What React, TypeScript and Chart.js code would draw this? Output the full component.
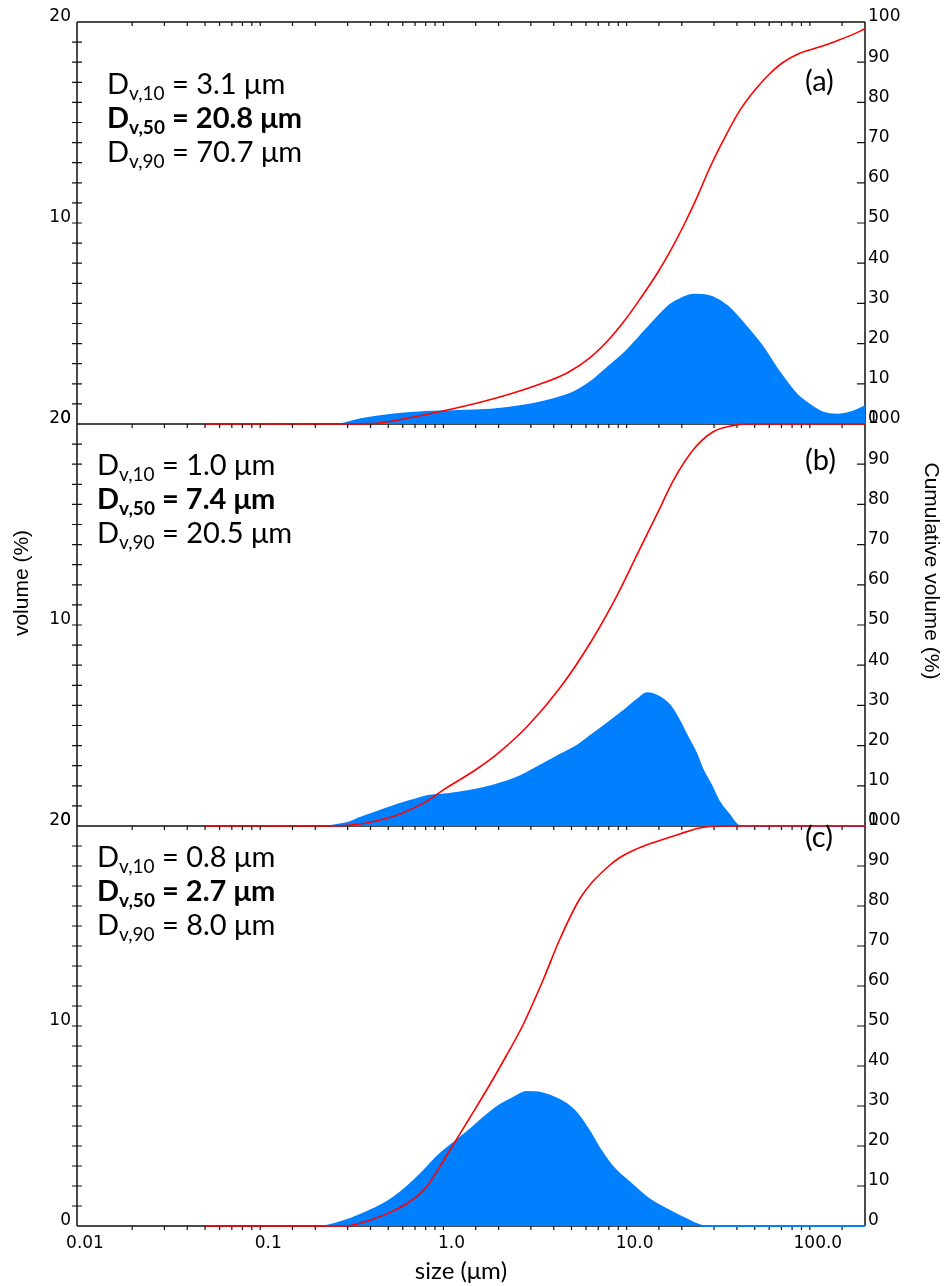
import React, { useEffect, useRef } from "react";
import { Chart, registerables } from "chart.js";

Chart.register(...registerables);

// ---------------- data ----------------
const X_MIN = 0.01;
const X_MAX = 200;
const xTickValues = [0.01, 0.1, 1, 10, 100];
const xTickLabels = ["0.01", "0.1", "1.0", "10.0", "100.0"];

// Panel (a)
const sizesVolA = [0.28, 0.35, 0.45, 0.69, 1.12, 1.81, 2.78, 3.9, 5.2, 6.6, 8.0, 9.7, 11.8, 14.3, 17.3, 20, 23.1, 26, 29.4, 35.6, 43.3, 55, 66.7, 84.7, 100, 117, 142, 170, 200];
const volA = [0, 0.22, 0.39, 0.56, 0.64, 0.71, 0.92, 1.21, 1.6, 2.2, 2.86, 3.52, 4.35, 5.18, 5.93, 6.25, 6.43, 6.42, 6.31, 5.85, 5.02, 3.86, 2.7, 1.47, 0.95, 0.58, 0.46, 0.6, 0.87];
const sizesCumA = [0.05, 0.2, 0.41, 0.52, 0.92, 1.81, 3.2, 4.73, 6.32, 8.0, 9.7, 11.8, 14.7, 17.3, 20.8, 24, 28.6, 35, 41.5, 50, 60, 70.7, 88, 115, 140, 170, 200];
const cumA = [0, 0, 0.1, 0.7, 2.9, 6.1, 9.6, 12.7, 16.5, 21, 25.6, 31, 37.5, 43, 50, 56, 64, 72, 78, 83, 87, 89.8, 92.2, 93.9, 95.3, 96.8, 98.3];

// Panel (b)
const sizesVolB = [0.24, 0.3, 0.35, 0.45, 0.58, 0.72, 0.84, 1.1, 1.6, 2.2, 2.6, 3.3, 4.35, 5.5, 6.5, 8.1, 10, 11.5, 12.9, 14.5, 17.2, 19.5, 21.3, 24, 26, 29, 32, 36, 41.4, 200];
const volB = [0, 0.15, 0.4, 0.75, 1.1, 1.35, 1.5, 1.6, 1.85, 2.2, 2.45, 2.95, 3.55, 4.05, 4.55, 5.2, 5.85, 6.3, 6.6, 6.5, 6.0, 5.2, 4.5, 3.6, 2.8, 2.0, 1.2, 0.6, 0, 0];
const sizesCumB = [0.05, 0.25, 0.35, 0.45, 0.58, 0.8, 1.0, 1.5, 2.0, 2.9, 4.35, 6.5, 8.9, 11.4, 14.8, 18, 23.1, 29.5, 37.8, 45, 200];
const cumB = [0, 0, 0.5, 1.5, 3, 6.0, 9.0, 14.0, 18.2, 25, 34.5, 46.4, 57.5, 67.5, 78, 86, 93.6, 98, 99.6, 100, 100];

// Panel (c)
const sizesVolC = [0.23, 0.3, 0.37, 0.45, 0.54, 0.65, 0.79, 0.92, 1.1, 1.39, 1.7, 2.0, 2.4, 2.84, 3.4, 4.3, 5.0, 5.5, 6.3, 7.2, 8.5, 10.6, 13, 16.8, 21, 26.4, 200];
const volC = [0, 0.3, 0.64, 1.0, 1.45, 2.05, 2.8, 3.45, 4.05, 4.8, 5.5, 6.0, 6.4, 6.7, 6.65, 6.3, 5.9, 5.5, 4.7, 3.8, 2.9, 2.1, 1.4, 0.8, 0.35, 0, 0];
const sizesCumC = [0.05, 0.29, 0.4, 0.54, 0.65, 0.8, 1.07, 1.39, 1.8, 2.2, 2.7, 3.5, 4.3, 5.5, 6.5, 8.0, 9.1, 11, 13.5, 19.5, 25, 32, 200];
const cumC = [0, 0, 1.5, 3.9, 6.0, 9.5, 18.5, 27, 35.5, 42.5, 50, 61.5, 71.5, 81.5, 86, 90, 92, 94, 95.6, 98, 99.5, 100, 100];

const panelLetters = ["(a)", "(b)", "(c)"];
const dv10 = ["3.1", "1.0", "0.8"];
const dv50 = ["20.8", "7.4", "2.7"];
const dv90 = ["70.7", "20.5", "8.0"];

const yLeftTitle = "volume (%)";
const yRightTitle = "Cumulative volume (%)";
const xTitle = "size (\u03bcm)";

// ---------------- styles ----------------
const BLUE = "rgb(0,128,255)";
const RED = "rgb(255,0,0)";
const W = 951;
const LEFT_AXIS_W = 77;
const RIGHT_AXIS_W = 86;
const TICK_FONT = { family: "'DejaVu Sans', sans-serif", size: 17 };
const ANNOT_FAMILY = "Lato, 'Open Sans', sans-serif";

type PanelDef = {
  sizesVol: number[];
  vol: number[];
  sizesCum: number[];
  cum: number[];
  idx: number;
  canvasTop: number;
  canvasHeight: number;
  xAxisHeight: number;
  showXLabels: boolean;
  drawTop: boolean;
  annotX: number;
  annotBase: number;
  letterBase: number;
  axisTitles: boolean;
  xTitle: boolean;
};

const panels: PanelDef[] = [
  { sizesVol: sizesVolA, vol: volA, sizesCum: sizesCumA, cum: cumA, idx: 0, canvasTop: 0, canvasHeight: 446, xAxisHeight: 22, showXLabels: false, drawTop: true, annotX: 107, annotBase: 94, letterBase: 91, axisTitles: false, xTitle: false },
  { sizesVol: sizesVolB, vol: volB, sizesCum: sizesCumB, cum: cumB, idx: 1, canvasTop: 402, canvasHeight: 446, xAxisHeight: 22, showXLabels: false, drawTop: false, annotX: 97, annotBase: 475, letterBase: 470, axisTitles: true, xTitle: false },
  { sizesVol: sizesVolC, vol: volC, sizesCum: sizesCumC, cum: cumC, idx: 2, canvasTop: 804, canvasHeight: 482, xAxisHeight: 60, showXLabels: true, drawTop: false, annotX: 97, annotBase: 867, letterBase: 847, axisTitles: false, xTitle: true },
];

function drawDLine(ctx: CanvasRenderingContext2D, x: number, y: number, sub: string, value: string, bold: boolean) {
  const w = bold ? "bold " : "";
  ctx.font = `${w}29px ${ANNOT_FAMILY}`;
  ctx.fillText("D", x, y);
  x += ctx.measureText("D").width;
  ctx.font = `${w}19px ${ANNOT_FAMILY}`;
  ctx.fillText(sub, x, y + 6);
  x += ctx.measureText(sub).width;
  ctx.font = `${w}29px ${ANNOT_FAMILY}`;
  ctx.fillText(` = ${value} \u03bcm`, x, y);
}

const decoPlugin = {
  id: "deco",
  beforeDatasetsDraw(chart: any, _args: any, opts: any) {
    const { ctx, chartArea } = chart;
    const { left, right, top, bottom } = chartArea;
    const xs = chart.scales.x;
    const yl = chart.scales.y;
    const yr = chart.scales.y2;
    ctx.save();
    ctx.strokeStyle = "#111";
    ctx.lineWidth = 1.5;
    ctx.beginPath();
    if (opts.drawTop) {
      ctx.moveTo(left, top);
      ctx.lineTo(right, top);
    }
    ctx.moveTo(left, bottom);
    ctx.lineTo(right, bottom);
    ctx.moveTo(left, top);
    ctx.lineTo(left, bottom);
    ctx.moveTo(right, top);
    ctx.lineTo(right, bottom);
    ctx.stroke();

    ctx.lineWidth = 1.2;
    ctx.beginPath();
    xs.ticks.forEach((t: any) => {
      const px = xs.getPixelForValue(t.value);
      if (px <= left + 1 || px >= right - 1) return;
      ctx.moveTo(px, top);
      ctx.lineTo(px, top + 4);
      if (opts.bottomTicks) {
        ctx.moveTo(px, bottom);
        ctx.lineTo(px, bottom + 4);
      }
    });
    for (let v = yl.min + 1; v < yl.max; v += 1) {
      const py = yl.getPixelForValue(v);
      ctx.moveTo(left - 5, py);
      ctx.lineTo(left + 5, py);
    }
    for (let v = yr.min + 10; v < yr.max; v += 10) {
      const py = yr.getPixelForValue(v);
      ctx.moveTo(right - 8, py);
      ctx.lineTo(right, py);
    }
    ctx.stroke();
    ctx.restore();
  },
  afterDraw(chart: any, _args: any, opts: any) {
    const { ctx } = chart;
    const off = opts.canvasTop;
    ctx.save();
    ctx.fillStyle = "#000";
    ctx.textBaseline = "alphabetic";
    ctx.textAlign = "left";
    const i = opts.idx;
    drawDLine(ctx, opts.annotX, opts.annotBase - off, "v,10", dv10[i], false);
    drawDLine(ctx, opts.annotX, opts.annotBase + 34 - off, "v,50", dv50[i], true);
    drawDLine(ctx, opts.annotX, opts.annotBase + 68 - off, "v,90", dv90[i], false);
    ctx.font = `29px ${ANNOT_FAMILY}`;
    ctx.fillText(panelLetters[i], 805, opts.letterBase - off);

    if (opts.axisTitles) {
      ctx.font = "21px 'Liberation Sans', Arial, sans-serif";
      ctx.textAlign = "center";
      ctx.textBaseline = "middle";
      ctx.save();
      ctx.translate(22, 583 - off);
      ctx.rotate(-Math.PI / 2);
      ctx.fillText(yLeftTitle, 0, 0);
      ctx.restore();
      ctx.save();
      ctx.translate(931, 571 - off);
      ctx.rotate(Math.PI / 2);
      ctx.fillText(yRightTitle, 0, 0);
      ctx.restore();
    }
    if (opts.xTitle) {
      ctx.font = `24px ${ANNOT_FAMILY}`;
      ctx.textAlign = "center";
      ctx.textBaseline = "middle";
      ctx.fillText(xTitle, 461, 1271 - off);
    }
    ctx.restore();
  },
};

function xLabel(v: number): string {
  const k = xTickValues.findIndex((t) => Math.abs(Math.log10(v) - Math.log10(t)) < 1e-6);
  return k >= 0 ? xTickLabels[k] : "";
}

function Panel({ def }: { def: PanelDef }) {
  const ref = useRef<HTMLCanvasElement>(null);
  useEffect(() => {
    const chart = new Chart(ref.current as HTMLCanvasElement, {
      type: "line",
      data: {
        datasets: [
          {
            label: "cumulative",
            data: def.sizesCum.map((s, k) => ({ x: s, y: def.cum[k] })),
            yAxisID: "y2",
            borderColor: RED,
            borderWidth: 1.6,
            pointRadius: 0,
            fill: false,
            clip: 3,
            cubicInterpolationMode: "monotone",
            order: 0,
          },
          {
            label: "volume",
            data: def.sizesVol.map((s, k) => ({ x: s, y: def.vol[k] })),
            yAxisID: "y",
            borderColor: BLUE,
            backgroundColor: BLUE,
            borderWidth: 2,
            pointRadius: 0,
            fill: "origin",
            clip: 2,
            cubicInterpolationMode: "monotone",
            order: 1,
          },
        ],
      },
      options: {
        responsive: false,
        animation: false,
        events: [],
        layout: { padding: { top: 22, bottom: 0, left: 0, right: 0 } },
        plugins: {
          legend: { display: false },
          tooltip: { enabled: false },
          deco: {
            idx: def.idx,
            canvasTop: def.canvasTop,
            annotX: def.annotX,
            annotBase: def.annotBase,
            letterBase: def.letterBase,
            axisTitles: def.axisTitles,
            xTitle: def.xTitle,
            bottomTicks: def.showXLabels,
            drawTop: def.drawTop,
          },
        } as any,
        scales: {
          x: {
            type: "logarithmic",
            min: X_MIN,
            max: X_MAX,
            afterFit: (s: any) => {
              s.height = def.xAxisHeight;
            },
            grid: { display: false, drawTicks: false },
            border: { display: false },
            ticks: {
              display: def.showXLabels,
              autoSkip: false,
              maxRotation: 0,
              minRotation: 0,
              padding: 7,
              labelOffset: 8,
              color: "#000",
              font: { family: "'DejaVu Sans', sans-serif", size: 17 },
              callback: (v: any) => xLabel(Number(v)),
            },
          },
          y: {
            type: "linear",
            position: "left",
            min: 0,
            max: 20,
            afterFit: (s: any) => {
              s.width = LEFT_AXIS_W;
            },
            grid: { display: false, drawTicks: false },
            border: { display: false },
            ticks: { stepSize: 10, padding: 6, labelOffset: -5, color: "#000", font: TICK_FONT },
          },
          y2: {
            type: "linear",
            position: "right",
            min: 0,
            max: 100,
            afterFit: (s: any) => {
              s.width = RIGHT_AXIS_W;
            },
            grid: { display: false, drawTicks: false },
            border: { display: false },
            ticks: { stepSize: 10, padding: 3, labelOffset: -5, color: "#000", font: TICK_FONT },
          },
        },
      } as any,
      plugins: [decoPlugin],
    });
    return () => chart.destroy();
  }, []);
  return (
    <canvas
      ref={ref}
      width={W}
      height={def.canvasHeight}
      style={{ position: "absolute", left: 0, top: def.canvasTop, width: W, height: def.canvasHeight }}
    />
  );
}

export default function App() {
  useEffect(() => {
    document.body.style.margin = "0";
    document.body.style.background = "#fff";
  }, []);
  return (
    <div style={{ position: "absolute", left: 0, top: 0, width: W, height: 1286, background: "#fff" }}>
      {panels.map((p) => (
        <Panel key={p.idx} def={p} />
      ))}
    </div>
  );
}
